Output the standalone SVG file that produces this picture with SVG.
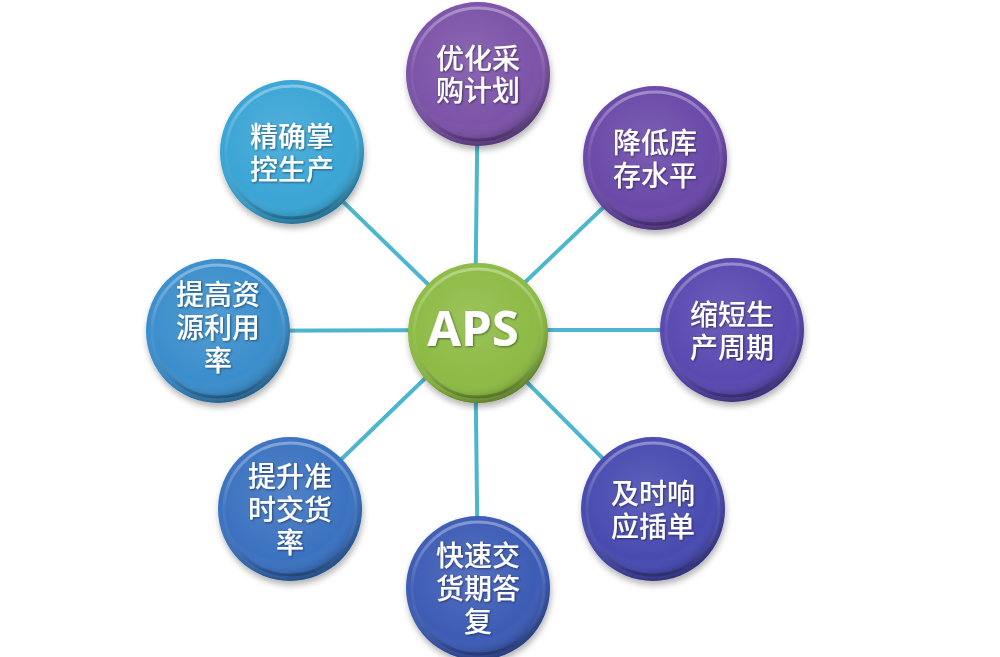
<svg xmlns="http://www.w3.org/2000/svg" width="1000" height="657" viewBox="0 0 1000 657">
<defs>
<radialGradient id="shade" cx="0.45" cy="0.4" r="0.6">
<stop offset="0" stop-color="#ffffff" stop-opacity="0.12"/>
<stop offset="0.75" stop-color="#ffffff" stop-opacity="0"/>
<stop offset="0.9" stop-color="#000000" stop-opacity="0.08"/>
<stop offset="1" stop-color="#000000" stop-opacity="0.3"/>
</radialGradient>
<linearGradient id="rim" x1="0" y1="0" x2="0" y2="1">
<stop offset="0" stop-color="#ffffff" stop-opacity="0.35"/>
<stop offset="0.5" stop-color="#ffffff" stop-opacity="0.05"/>
<stop offset="1" stop-color="#000000" stop-opacity="0.25"/>
</linearGradient>
<filter id="sh" x="-20%" y="-20%" width="140%" height="150%">
<feDropShadow dx="1" dy="4" stdDeviation="3" flood-color="#000" flood-opacity="0.3"/>
</filter>
<filter id="tsh" x="-10%" y="-10%" width="120%" height="130%">
<feDropShadow dx="1" dy="1" stdDeviation="0.8" flood-color="#000" flood-opacity="0.45"/>
</filter>
</defs>
<style>
.lk{stroke:#4db6cf;stroke-width:4;fill:none;stroke-linecap:round}
.ov{fill:url(#shade)}
.rm{fill:none;stroke:url(#rim);stroke-width:3}
.t{font-family:"Liberation Sans","Noto Sans CJK SC",sans-serif;font-size:28px;font-weight:500;fill:#ffffff;text-anchor:middle;filter:url(#tsh)}
.aps{font-family:"Open Sans","Liberation Sans",sans-serif;font-size:49px;font-weight:bold;fill:#ffffff;text-anchor:middle;filter:url(#tsh)}
</style>
<rect width="1000" height="657" fill="#ffffff"/>
<g id="connectors">
<line class="lk" x1="475" y1="330" x2="478" y2="74"/>
<line class="lk" x1="475" y1="330" x2="655" y2="158"/>
<line class="lk" x1="475" y1="330" x2="732" y2="330"/>
<line class="lk" x1="475" y1="330" x2="653" y2="509"/>
<line class="lk" x1="475" y1="330" x2="478" y2="588"/>
<line class="lk" x1="475" y1="330" x2="290" y2="509"/>
<line class="lk" x1="475" y1="330" x2="218" y2="331"/>
<line class="lk" x1="475" y1="330" x2="292" y2="152"/>
</g>
<g id="n1">
<circle cx="478" cy="74" r="72" fill="#7b52a8" filter="url(#sh)"/>
<circle cx="478" cy="74" r="72" class="ov"/>
<circle cx="478" cy="74" r="66" class="rm"/>
<text class="t" x="478" y="69">优化采<tspan x="478" dy="32">购计划</tspan></text>
</g>
<g id="n2">
<circle cx="655" cy="158" r="72" fill="#6a4aa8" filter="url(#sh)"/>
<circle cx="655" cy="158" r="72" class="ov"/>
<circle cx="655" cy="158" r="66" class="rm"/>
<text class="t" x="655" y="153">降低库<tspan x="655" dy="33">存水平</tspan></text>
</g>
<g id="n3">
<circle cx="732" cy="330" r="72" fill="#5a48b0" filter="url(#sh)"/>
<circle cx="732" cy="330" r="72" class="ov"/>
<circle cx="732" cy="330" r="66" class="rm"/>
<text class="t" x="732" y="325">缩短生<tspan x="732" dy="33">产周期</tspan></text>
</g>
<g id="n4">
<circle cx="653" cy="509" r="72" fill="#4a4bb0" filter="url(#sh)"/>
<circle cx="653" cy="509" r="72" class="ov"/>
<circle cx="653" cy="509" r="66" class="rm"/>
<text class="t" x="653" y="504">及时响<tspan x="653" dy="33">应插单</tspan></text>
</g>
<g id="n5">
<circle cx="478" cy="588" r="72" fill="#3d5cb5" filter="url(#sh)"/>
<circle cx="478" cy="588" r="72" class="ov"/>
<circle cx="478" cy="588" r="66" class="rm"/>
<text class="t" x="478" y="566">快速交<tspan x="478" dy="33">货期答</tspan><tspan x="478" dy="33">复</tspan></text>
</g>
<g id="n6">
<circle cx="290" cy="509" r="72" fill="#3a72c0" filter="url(#sh)"/>
<circle cx="290" cy="509" r="72" class="ov"/>
<circle cx="290" cy="509" r="66" class="rm"/>
<text class="t" x="290" y="487">提升准<tspan x="290" dy="33">时交货</tspan><tspan x="290" dy="33">率</tspan></text>
</g>
<g id="n7">
<circle cx="218" cy="331" r="72" fill="#3a8ecc" filter="url(#sh)"/>
<circle cx="218" cy="331" r="72" class="ov"/>
<circle cx="218" cy="331" r="66" class="rm"/>
<text class="t" x="218" y="305">提高资<tspan x="218" dy="33">源利用</tspan><tspan x="218" dy="33">率</tspan></text>
</g>
<g id="n8">
<circle cx="292" cy="152" r="72" fill="#3aa5d5" filter="url(#sh)"/>
<circle cx="292" cy="152" r="72" class="ov"/>
<circle cx="292" cy="152" r="66" class="rm"/>
<text class="t" x="292" y="147">精确掌<tspan x="292" dy="33">控生产</tspan></text>
</g>
<g id="center">
<circle cx="478" cy="333" r="70" fill="#8dbb45" filter="url(#sh)"/>
<circle cx="478" cy="333" r="70" class="ov"/>
<circle cx="478" cy="333" r="64" class="rm"/>
<text class="aps" x="473" y="346">APS</text>
</g>
</svg>
